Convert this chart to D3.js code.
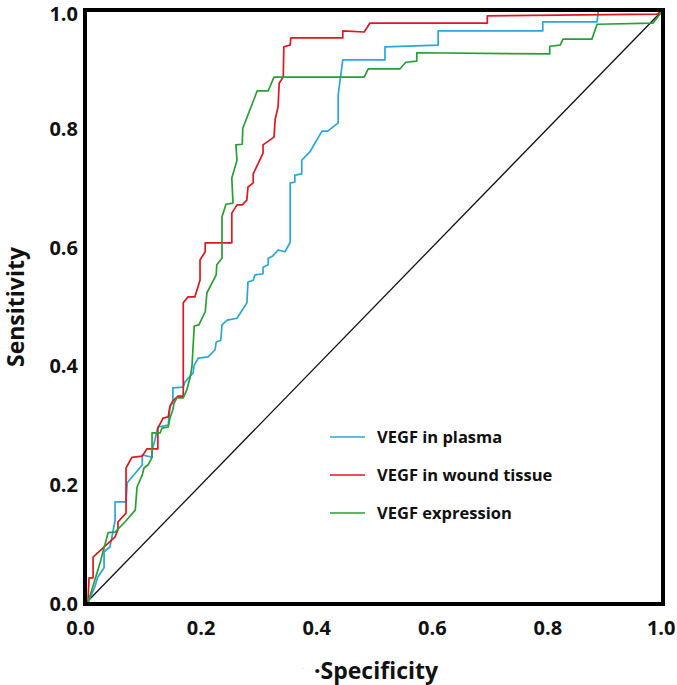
<!DOCTYPE html>
<html>
<head>
<meta charset="utf-8">
<script src="https://cdn.jsdelivr.net/npm/d3@7"></script>
<style>
  body { margin: 0; background: #fff; }
</style>
</head>
<body>
<div id="chart"></div>
<script>
/* ROC curves — VEGF markers */

const SERIES_NAMES = ['VEGF in plasma', 'VEGF in wound tissue', 'VEGF expression'];
const SERIES_COLORS = ['#29a6dd', '#e3161d', '#27a033'];

// [1 - specificity, sensitivity] pairs
const plasma = [
  [0, 0], [0.005, 0.002], [0.017, 0.029], [0.022, 0.045], [0.033, 0.061], [0.033, 0.088],
  [0.043, 0.096], [0.048, 0.120], [0.052, 0.141], [0.052, 0.172], [0.071, 0.172], [0.073, 0.204],
  [0.099, 0.234], [0.099, 0.251], [0.116, 0.247], [0.116, 0.259], [0.121, 0.276], [0.126, 0.298],
  [0.144, 0.301], [0.147, 0.332], [0.152, 0.340], [0.152, 0.364], [0.170, 0.365], [0.173, 0.374],
  [0.187, 0.389], [0.189, 0.402], [0.196, 0.414], [0.213, 0.416], [0.225, 0.428], [0.227, 0.441],
  [0.235, 0.444], [0.237, 0.470], [0.246, 0.478], [0.263, 0.481], [0.280, 0.507], [0.282, 0.542],
  [0.291, 0.545], [0.294, 0.554], [0.308, 0.556], [0.308, 0.567], [0.317, 0.571], [0.317, 0.582],
  [0.325, 0.586], [0.334, 0.596], [0.346, 0.593], [0.355, 0.609], [0.355, 0.709], [0.363, 0.710],
  [0.363, 0.722], [0.375, 0.724], [0.375, 0.747], [0.389, 0.761], [0.410, 0.796], [0.420, 0.796],
  [0.438, 0.810], [0.438, 0.857], [0.446, 0.916], [0.519, 0.916], [0.519, 0.938], [0.611, 0.941],
  [0.611, 0.965], [0.792, 0.965], [0.792, 0.980], [0.886, 0.980], [0.888, 1.0], [1, 1],
];

const woundTissue = [
  [0, 0], [0.005, 0.002], [0.007, 0.044], [0.014, 0.044], [0.014, 0.079], [0.052, 0.113],
  [0.057, 0.125], [0.057, 0.138], [0.071, 0.153], [0.071, 0.229], [0.081, 0.247], [0.099, 0.249],
  [0.107, 0.261], [0.126, 0.261], [0.126, 0.296], [0.135, 0.313], [0.144, 0.315], [0.147, 0.333],
  [0.152, 0.342], [0.161, 0.350], [0.170, 0.350], [0.170, 0.507], [0.178, 0.517], [0.190, 0.517],
  [0.199, 0.545], [0.199, 0.579], [0.208, 0.593], [0.208, 0.608], [0.254, 0.608], [0.254, 0.658],
  [0.263, 0.672], [0.272, 0.672], [0.280, 0.680], [0.282, 0.702], [0.291, 0.709], [0.291, 0.724],
  [0.308, 0.759], [0.308, 0.773], [0.327, 0.786], [0.329, 0.816], [0.334, 0.837], [0.336, 0.877],
  [0.343, 0.887], [0.344, 0.938], [0.355, 0.941], [0.356, 0.953], [0.446, 0.953], [0.446, 0.965],
  [0.483, 0.963], [0.493, 0.978], [0.696, 0.978], [0.696, 0.990], [0.990, 0.993], [1, 1],
];

const expression = [
  [0, 0], [0.005, 0.002], [0.026, 0.069], [0.040, 0.120], [0.052, 0.121], [0.061, 0.130],
  [0.069, 0.138], [0.087, 0.158], [0.090, 0.197], [0.099, 0.217], [0.102, 0.229], [0.109, 0.234],
  [0.116, 0.247], [0.116, 0.288], [0.130, 0.288], [0.133, 0.296], [0.144, 0.298], [0.147, 0.313],
  [0.152, 0.327], [0.154, 0.338], [0.159, 0.347], [0.170, 0.347], [0.176, 0.360], [0.182, 0.382],
  [0.185, 0.399], [0.189, 0.468], [0.197, 0.470], [0.208, 0.492], [0.211, 0.524], [0.227, 0.554],
  [0.228, 0.571], [0.237, 0.582], [0.237, 0.652], [0.244, 0.673], [0.256, 0.675], [0.254, 0.717],
  [0.263, 0.747], [0.261, 0.773], [0.272, 0.774], [0.273, 0.801], [0.298, 0.864], [0.317, 0.864],
  [0.327, 0.887], [0.483, 0.887], [0.490, 0.901], [0.545, 0.901], [0.555, 0.912], [0.574, 0.914],
  [0.574, 0.928], [0.804, 0.926], [0.804, 0.939], [0.822, 0.941], [0.827, 0.951], [0.877, 0.951],
  [0.886, 0.976], [0.983, 0.978], [1, 1],
];

const reference = [[0, 0], [1, 1]];
const TICKS = [0, 0.2, 0.4, 0.6, 0.8, 1.0];

const W = 677, H = 685;
const M = { top: 10, right: 14, bottom: 81, left: 85 };
const FONT = '"Open Sans", Lato, sans-serif';

const svg = d3.select('#chart')
  .append('svg')
  .attr('width', W).attr('height', H)
  .style('font-family', FONT);

const x = d3.scaleLinear().domain([0, 1]).range([M.left, W - M.right]);
const y = d3.scaleLinear().domain([0, 1]).range([H - M.bottom, M.top]);

// Axes (labels only, frame drawn separately)
svg.append('g')
  .attr('transform', `translate(0,${y(0)})`)
  .call(d3.axisBottom(x).tickValues(TICKS).tickSize(0).tickPadding(17).tickFormat(d3.format('.1f')))
  .call(ax => ax.select('.domain').remove())
  .call(ax => ax.selectAll('text')
    .attr('font-size', 20).attr('font-weight', 700).attr('fill', '#111')
    .style('font-family', FONT))
  .call(ax => ax.selectAll('.tick').filter(d => d === 1).select('text')
    .attr('text-anchor', 'end').attr('x', 12))
  .call(ax => ax.selectAll('.tick').filter(d => d === 0).select('text')
    .attr('x', -5));

svg.append('g')
  .attr('transform', `translate(${x(0)},0)`)
  .call(d3.axisLeft(y).tickValues(TICKS).tickSize(0).tickPadding(7).tickFormat(d3.format('.1f')))
  .call(ax => ax.select('.domain').remove())
  .call(ax => ax.selectAll('text')
    .attr('font-size', 20).attr('font-weight', 700).attr('fill', '#111')
    .style('font-family', FONT))
  .call(ax => ax.selectAll('.tick').filter(d => d === 1).select('text').attr('dy', '0.5em'));

// Diagonal reference
const line = d3.line().x(d => x(d[0])).y(d => y(d[1]));

svg.append('path')
  .datum(reference)
  .attr('d', line)
  .attr('fill', 'none')
  .attr('stroke', '#111')
  .attr('stroke-width', 1.3);

// ROC curves
[plasma, woundTissue, expression].forEach((pts, i) => {
  svg.append('path')
    .datum(pts)
    .attr('d', line)
    .attr('fill', 'none')
    .attr('stroke', SERIES_COLORS[i])
    .attr('stroke-width', 1.7)
    .attr('stroke-linejoin', 'round');
});

// Frame
svg.append('rect')
  .attr('x', x(0)).attr('y', y(1))
  .attr('width', x(1) - x(0)).attr('height', y(0) - y(1))
  .attr('fill', 'none')
  .attr('stroke', '#000')
  .attr('stroke-width', 4);

// Axis titles
svg.append('text')
  .attr('x', 314).attr('y', 679)
  .attr('font-size', 23).attr('font-weight', 700).attr('fill', '#111')
  .text('·Specificity');

svg.append('text')
  .attr('x', 302).attr('y', 669)
  .attr('font-size', 6).attr('fill', '#999')
  .text('.');

svg.append('text')
  .attr('transform', `translate(24,${(y(0) + y(1)) / 2}) rotate(-90)`)
  .attr('text-anchor', 'middle')
  .attr('font-size', 23).attr('font-weight', 700).attr('fill', '#111')
  .text('Sensitivity');

// Legend
const leg = svg.append('g').attr('transform', 'translate(330,437)');
SERIES_NAMES.forEach((name, i) => {
  leg.append('line')
    .attr('x1', 0).attr('x2', 35)
    .attr('y1', i * 38).attr('y2', i * 38)
    .attr('stroke', SERIES_COLORS[i])
    .attr('stroke-width', 1.5);
  leg.append('text')
    .attr('x', 47).attr('y', i * 38 + 6)
    .attr('font-size', 16.5).attr('font-weight', 700).attr('fill', '#111')
    .text(name);
});
</script>
</body>
</html>
